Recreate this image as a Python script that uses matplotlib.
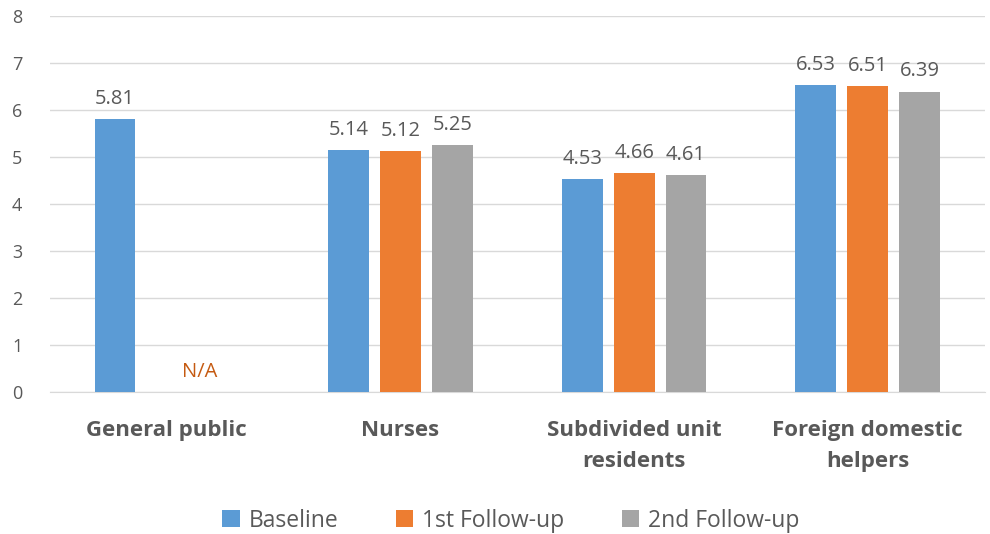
import matplotlib
matplotlib.use("Agg")
import matplotlib.pyplot as plt
import numpy as np

categories = ["General public", "Nurses", "Subdivided unit\nresidents", "Foreign domestic\nhelpers"]
series_names = ["Baseline", "1st Follow-up", "2nd Follow-up"]
baseline = [5.81, 5.14, 4.53, 6.53]
follow1 = [np.nan, 5.12, 4.66, 6.51]
follow2 = [np.nan, 5.25, 4.61, 6.39]
colors = ["#5B9BD5", "#ED7D31", "#A5A5A5"]
text_color = "#595959"

plt.rcParams['font.family'] = ['Open Sans', 'DejaVu Sans']

fig = plt.figure(figsize=(9.9, 5.34), dpi=100)
ax = fig.add_axes([0.0505, 0.266, 0.944, 0.704])

x = np.arange(len(categories))
width = 0.175
step = 0.222
data = [baseline, follow1, follow2]
for i, (vals, name, c) in enumerate(zip(data, series_names, colors)):
    pos = x + (i - 1) * step
    ax.bar(pos, np.nan_to_num(vals, nan=0.0), width, color=c, label=name, zorder=3)
    for p, v in zip(pos, vals):
        if not np.isnan(v):
            ax.text(p, v + 0.22, f"{v:.2f}", ha="center", va="bottom",
                    fontsize=14.5, color=text_color)

ax.text(x[0] + 0.14, 0.22, "N/A", ha="center", va="bottom", fontsize=14.5, color="#C55A11")

ax.set_xlim(-0.5, len(categories) - 0.5)
ax.set_ylim(0, 8)
ax.set_yticks(range(0, 9))
ax.yaxis.grid(True, color="#D9D9D9", linewidth=1, zorder=0)
ax.set_axisbelow(True)
for s in ["top", "right", "left"]:
    ax.spines[s].set_visible(False)
ax.spines["bottom"].set_color("#D9D9D9")
ax.tick_params(axis="y", length=0, labelsize=13, labelcolor=text_color, pad=20)
ax.tick_params(axis="x", length=0, pad=20)
ax.set_xticks(x)
ax.set_xticklabels(categories, fontsize=16, fontweight="bold", color=text_color, linespacing=1.65)

leg = fig.legend(loc="center", bbox_to_anchor=(0.516, 0.025), ncol=3, frameon=False,
                 fontsize=16.5, handlelength=0.75, handleheight=0.75, handletextpad=0.4,
                 columnspacing=2.5)
for t in leg.get_texts():
    t.set_color(text_color)

fig.savefig("out.png", dpi=100)
